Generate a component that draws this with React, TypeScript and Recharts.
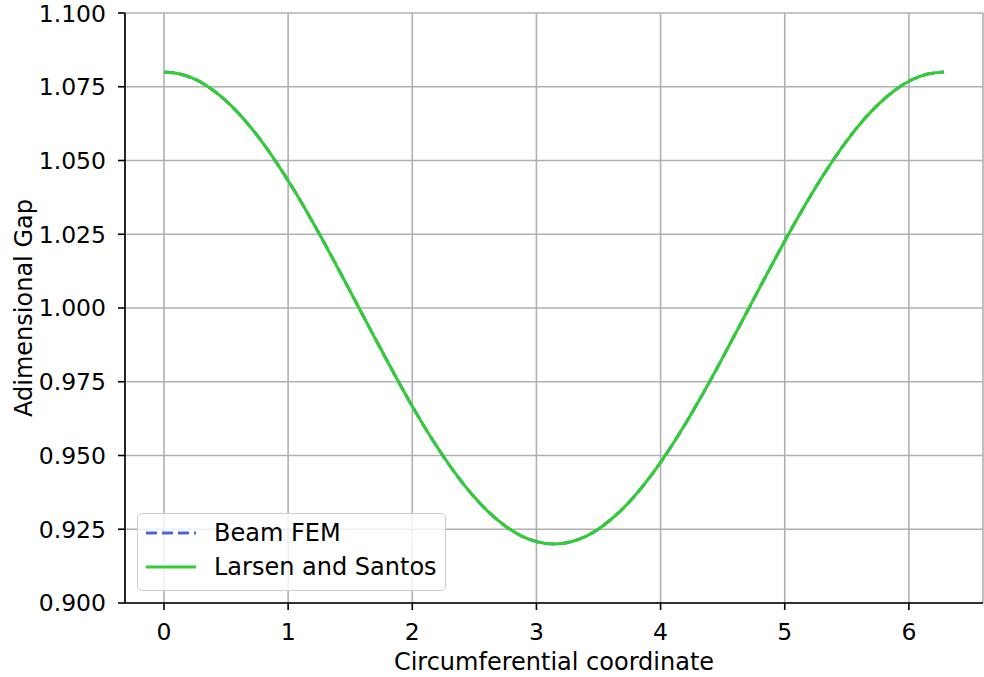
import { LineChart, Line, CartesianGrid, XAxis, YAxis } from "recharts";

const angle = [
	0, 0.131, 0.262, 0.393, 0.524, 0.654, 0.785, 0.916, 1.047, 1.178, 1.309, 1.44, 1.571,
	1.702, 1.833, 1.963, 2.094, 2.225, 2.356, 2.487, 2.618, 2.749, 2.88, 3.011, 3.142,
	3.272, 3.403, 3.534, 3.665, 3.796, 3.927, 4.058, 4.189, 4.32, 4.451, 4.581, 4.712,
	4.843, 4.974, 5.105, 5.236, 5.367, 5.498, 5.629, 5.76, 5.89, 6.021, 6.152, 6.283,
];

const beamFem = [
	1.08, 1.0793, 1.0773, 1.0739, 1.0693, 1.0635, 1.0566, 1.0487, 1.04, 1.0306, 1.0207, 1.0104, 1.0,
	0.9896, 0.9793, 0.9694, 0.96, 0.9513, 0.9434, 0.9365, 0.9307, 0.9261, 0.9227, 0.9207, 0.92,
	0.9207, 0.9227, 0.9261, 0.9307, 0.9365, 0.9434, 0.9513, 0.96, 0.9694, 0.9793, 0.9896, 1.0,
	1.0104, 1.0207, 1.0306, 1.04, 1.0487, 1.0566, 1.0635, 1.0693, 1.0739, 1.0773, 1.0793, 1.08,
];

const larsenSantos = [
	1.08, 1.0793, 1.0773, 1.0739, 1.0693, 1.0635, 1.0566, 1.0487, 1.04, 1.0306, 1.0207, 1.0104, 1.0,
	0.9896, 0.9793, 0.9694, 0.96, 0.9513, 0.9434, 0.9365, 0.9307, 0.9261, 0.9227, 0.9207, 0.92,
	0.9207, 0.9227, 0.9261, 0.9307, 0.9365, 0.9434, 0.9513, 0.96, 0.9694, 0.9793, 0.9896, 1.0,
	1.0104, 1.0207, 1.0306, 1.04, 1.0487, 1.0566, 1.0635, 1.0693, 1.0739, 1.0773, 1.0793, 1.08,
];

const xTicks = [0, 1, 2, 3, 4, 5, 6];
const yTicks = [0.9, 0.925, 0.95, 0.975, 1.0, 1.025, 1.05, 1.075, 1.1];

const data = angle.map((x, i) => ({ x, beam: beamFem[i], larsen: larsenSantos[i] }));

const font = "'DejaVu Sans', sans-serif";
const tickStyle = { fill: "#000", fontSize: 23.5, fontFamily: font };
const labelStyle = { ...tickStyle, fontSize: 24, textAnchor: "middle" as const };

// legend drawn as an overlay so it doesn't shrink the plot area
const CustomLegend = () => (
	<div
		style={{
			position: "absolute",
			left: 137,
			top: 513,
			width: 309,
			height: 78,
			background: "rgba(255,255,255,0.8)",
			border: "1.5px solid #cccccc",
			borderRadius: 5,
			fontFamily: font,
			fontSize: 24,
			color: "#000",
			boxSizing: "border-box",
			paddingTop: 2,
		}}
	>
		<div style={{ display: "flex", alignItems: "center", height: 34 }}>
			<svg width={76} height={10}>
				<line x1={8} y1={5} x2={58} y2={5} stroke="#4169e1" strokeWidth={3} strokeDasharray="11 5" />
			</svg>
			<span>Beam FEM</span>
		</div>
		<div style={{ display: "flex", alignItems: "center", height: 34 }}>
			<svg width={76} height={10}>
				<line x1={8} y1={5} x2={58} y2={5} stroke="#32cd32" strokeWidth={3} />
			</svg>
			<span>Larsen and Santos</span>
		</div>
	</div>
);

export default function App() {
	return (
		<div style={{ position: "fixed", left: 0, top: 0, width: 984, height: 677, background: "#fff" }}>
			<LineChart width={984} height={677} data={data} margin={{ top: 13, right: 1, left: 0, bottom: 0 }}>
				<CartesianGrid stroke="#b0b0b0" strokeWidth={1.6} />
				<XAxis
					dataKey="x"
					type="number"
					domain={[-0.314, 6.597]}
					ticks={xTicks}
					allowDataOverflow
					height={74}
					stroke="#000"
					strokeWidth={1.6}
					tickSize={7}
					tickMargin={13}
					tick={tickStyle}
					label={{ value: "Circumferential coordinate", position: "insideBottom", offset: 7, style: labelStyle }}
				/>
				<XAxis xAxisId="top" orientation="top" type="number" domain={[-0.314, 6.597]} height={0} tick={false} tickLine={false} stroke="#000" strokeWidth={1.6} />
				<YAxis
					type="number"
					domain={[0.9, 1.1]}
					ticks={yTicks}
					allowDataOverflow
					width={125}
					stroke="#000"
					strokeWidth={1.6}
					tickSize={7}
					tickMargin={12}
					tick={tickStyle}
					tickFormatter={(v: number) => v.toFixed(3)}
					label={{ value: "Adimensional Gap", angle: -90, position: "insideLeft", offset: 23, style: labelStyle }}
				/>
				<YAxis yAxisId="right" orientation="right" domain={[0.9, 1.1]} width={0} tick={false} tickLine={false} stroke="#000" strokeWidth={1.6} />
				<Line type="monotone" dataKey="beam" name="Beam FEM" stroke="#4169e1" strokeWidth={3} strokeDasharray="11 5" dot={false} isAnimationActive={false} />
				<Line type="monotone" dataKey="larsen" name="Larsen and Santos" stroke="#32cd32" strokeWidth={3} dot={false} isAnimationActive={false} />
			</LineChart>
			<CustomLegend />
		</div>
	);
}
